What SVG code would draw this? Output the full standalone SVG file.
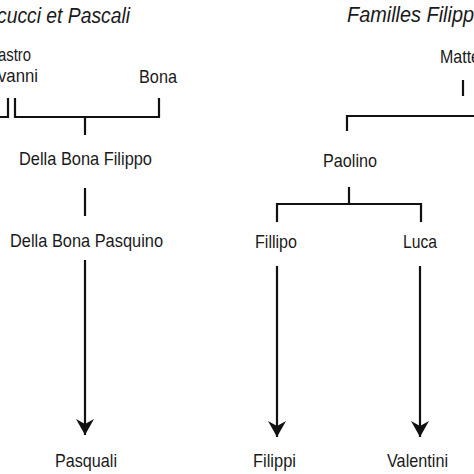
<svg xmlns="http://www.w3.org/2000/svg" width="474" height="474" viewBox="0 0 474 474">
<defs>
<style>
text{font-family:"Liberation Sans",Arial,sans-serif;fill:#1a1a1a;}
.t{font-size:18.5px;}
.h{font-size:22px;font-style:italic;}
.c{fill:none;stroke:#111;stroke-width:2.2;}
</style>
<marker id="ar" markerUnits="userSpaceOnUse" markerWidth="16" markerHeight="18" viewBox="0 0 16 18" refX="16" refY="9" orient="auto">
<path d="M0,0 L16,9 L0,18 L5,9 z" fill="#111"/>
</marker>
</defs>
<rect width="474" height="474" fill="#fff"/>
<g id="titles">
<text class="h" x="130" y="23" text-anchor="end" textLength="133" lengthAdjust="spacingAndGlyphs">cucci et Pascali</text>
<text class="h" x="347" y="22" textLength="127" lengthAdjust="spacingAndGlyphs">Familles Filipp</text>
</g>
<g id="connectors">
<path class="c" d="M0,117 H8 V98"/>
<path class="c" d="M15,98 V117 H159 V98"/>
<path class="c" d="M85,117 V135"/>
<path class="c" d="M85,188 V216"/>
<path class="c" d="M85,260 V435" marker-end="url(#ar)"/>
<path class="c" d="M463,80 V96"/>
<path class="c" d="M474,116 H347 V131"/>
<path class="c" d="M349,187 V203"/>
<path class="c" d="M277,222 V204 H421 V222"/>
<path class="c" d="M277,266 V437" marker-end="url(#ar)"/>
<path class="c" d="M420,266 V437" marker-end="url(#ar)"/>
</g>
<g id="n-mastro"><text class="t" x="31" y="61" text-anchor="end" textLength="33" lengthAdjust="spacingAndGlyphs">astro</text></g>
<g id="n-giovanni"><text class="t" x="38" y="82" text-anchor="end" textLength="40" lengthAdjust="spacingAndGlyphs">vanni</text></g>
<g id="n-bona"><text class="t" x="139" y="83" textLength="38" lengthAdjust="spacingAndGlyphs">Bona</text></g>
<g id="n-filippo"><text class="t" x="19" y="165" textLength="133" lengthAdjust="spacingAndGlyphs">Della Bona Filippo</text></g>
<g id="n-pasquino"><text class="t" x="10" y="247" textLength="153" lengthAdjust="spacingAndGlyphs">Della Bona Pasquino</text></g>
<g id="n-pasquali"><text class="t" x="55" y="467" textLength="62" lengthAdjust="spacingAndGlyphs">Pasquali</text></g>
<g id="n-matteo"><text class="t" x="440" y="63" textLength="40" lengthAdjust="spacingAndGlyphs">Matte</text></g>
<g id="n-paolino"><text class="t" x="323" y="167" textLength="54" lengthAdjust="spacingAndGlyphs">Paolino</text></g>
<g id="n-fillipo"><text class="t" x="255" y="248" textLength="42" lengthAdjust="spacingAndGlyphs">Fillipo</text></g>
<g id="n-luca"><text class="t" x="403" y="248" textLength="34" lengthAdjust="spacingAndGlyphs">Luca</text></g>
<g id="n-filippi"><text class="t" x="253" y="467" textLength="43" lengthAdjust="spacingAndGlyphs">Filippi</text></g>
<g id="n-valentini"><text class="t" x="387" y="467" textLength="61" lengthAdjust="spacingAndGlyphs">Valentini</text></g>
</svg>
